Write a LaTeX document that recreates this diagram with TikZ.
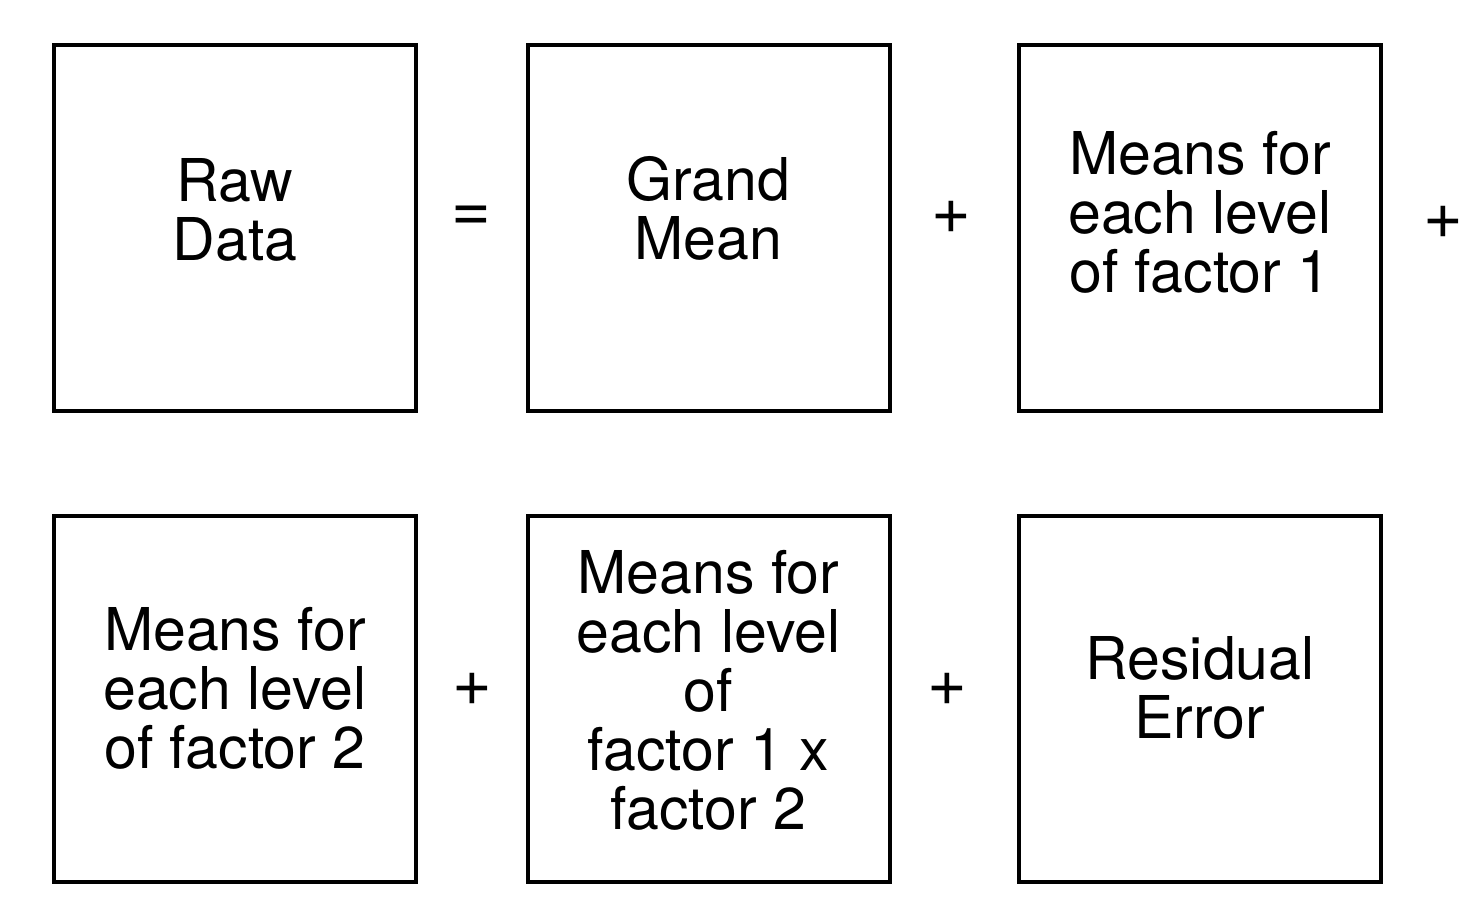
\documentclass[tikz,border=0pt]{standalone}
\usepackage{fontspec}
\setmainfont{TeX Gyre Heros}
\usepackage{tikz}

\begin{document}
\begin{tikzpicture}[x=0.5pt,y=-0.5pt,line width=2pt,
  box/.style={draw,minimum width=181pt,minimum height=183pt,inner sep=0pt},
  txt/.style={align=center,inner sep=0pt,font=\fontsize{29.5}{29.5}\selectfont},
  op/.style={inner sep=0pt,font=\fontsize{34}{34}\selectfont}]
\useasboundingbox (0,0) rectangle (1479,922);
\node[box](raw) at (235,228) {};
\node[box](grand) at (708.5,228) {};
\node[box](fone) at (1200,228) {};
\node[box](ftwo) at (235,699) {};
\node[box](inter) at (708.5,699) {};
\node[box](resid) at (1200,699) {};
\node[txt](rawtxt) at (235,209.5) {Raw\\Data};
\node[txt](grandtxt) at (708.5,208.5) {Grand\\Mean};
\node[txt](fonetxt) at (1200,212.5) {Means for\\each level\\of factor 1};
\node[txt](ftwotxt) at (235,688.5) {Means for\\each level\\of factor 2};
\node[txt](intertxt) at (708.5,690) {Means for\\each level\\of\\factor 1 x\\factor 2};
\node[txt](residtxt) at (1200,687.5) {Residual\\Error};
\node[op](eq) at (471,219) {=};
\node[op](pa) at (951,217.7) {+};
\node[op](pb) at (1443,222.7) {+};
\node[op](pc) at (472,689) {+};
\node[op](pd) at (947.5,689) {+};
\end{tikzpicture}
\end{document}
